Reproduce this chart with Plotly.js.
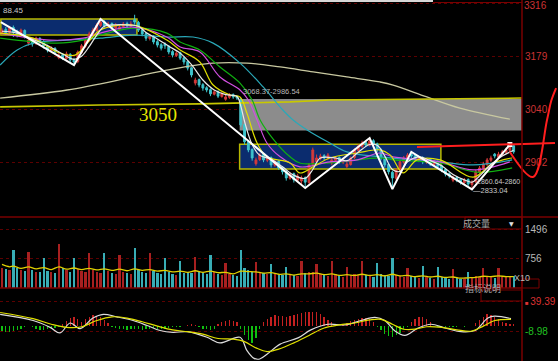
<!DOCTYPE html>
<html><head><meta charset="utf-8">
<script src="https://cdn.plot.ly/plotly-3.0.1.min.js"></script>
<style>html,body{margin:0;padding:0;background:#000;overflow:hidden}#chart{width:558px;height:361px}</style>
</head><body><div id="chart"></div><script>
// ---- price bars (bar index 0..135) ----
const open = [3240,3250,3242,3255,3244,3236,3247,3214,3221,3213,
3226,3218,3206,3195,3200,3176,3184,3174,3185,3171,
3166,3190,3206,3221,3237,3247,3260,3270,3258,3265,
3253,3250,3257,3265,3258,3275,3268,3249,3239,3226,
3232,3218,3210,3212,3206,3192,3182,3189,3176,3166,
3150,3110,3119,3106,3098,3093,3081,3088,3075,3068,
3073,3080,3075,3068,3002,2958,2937,2900,2911,2924,
2909,2916,2896,2906,2890,2880,2862,2874,2857,2855,
2864,2851,2898,2905,2914,2921,2914,2902,2909,2916,
2904,2893,2898,2916,2935,2945,2955,2948,2960,2952,
2937,2916,2898,2878,2862,2883,2904,2914,2924,2921,
2909,2916,2904,2911,2898,2906,2895,2885,2874,2857,
2864,2859,2851,2859,2846,2853,2878,2888,2898,2909,
2925,2917,2924,2930,2935,2947];
const close = [3248,3240,3254,3243,3235,3248,3233,3222,3212,3227,
3217,3207,3196,3201,3191,3183,3175,3186,3170,3165,
3191,3207,3222,3238,3248,3261,3269,3259,3264,3254,
3261,3256,3264,3259,3264,3269,3248,3238,3227,3233,
3217,3209,3201,3207,3191,3183,3188,3175,3165,3149,
3131,3118,3105,3097,3092,3082,3087,3076,3082,3074,
3079,3074,3071,3001,2957,2936,2915,2910,2923,2910,
2915,2897,2905,2889,2879,2863,2873,2858,2868,2863,
2852,2897,2936,2915,2920,2915,2923,2910,2915,2905,
2910,2899,2915,2936,2946,2954,2949,2959,2951,2936,
2915,2897,2879,2863,2884,2905,2915,2923,2920,2910,
2915,2905,2910,2899,2905,2894,2884,2873,2868,2863,
2858,2852,2858,2847,2852,2879,2889,2899,2910,2915,
2920,2925,2931,2936,2946,2931];
const high = [3253,3256,3259,3260,3249,3252,3250,3228,3226,3231,
3230,3222,3210,3206,3204,3190,3188,3192,3188,3176,
3195,3212,3227,3244,3254,3266,3277,3274,3270,3268,
3266,3262,3269,3270,3271,3288,3272,3252,3243,3238,
3235,3222,3214,3216,3209,3196,3193,3192,3180,3169,
3153,3124,3122,3110,3102,3096,3092,3091,3086,3080,
3084,3083,3078,3071,3005,2962,2940,2916,2928,2927,
2920,2919,2910,2909,2893,2884,2878,2877,2874,2869,
2867,2902,2942,2924,2926,2925,2928,2915,2920,2919,
2915,2905,2919,2940,2951,2960,2959,2967,2964,2955,
2940,2919,2901,2882,2888,2909,2920,2928,2931,2924,
2920,2919,2915,2914,2910,2909,2898,2888,2878,2869,
2868,2862,2863,2862,2857,2884,2894,2905,2915,2921,
2928,2931,2936,2942,2950,2950];
const low = [3236,3236,3238,3230,3229,3232,3226,3208,3205,3209,
3212,3200,3190,3191,3186,3172,3170,3171,3164,3157,
3162,3186,3202,3218,3233,3244,3256,3254,3253,3249,
3248,3245,3253,3254,3254,3262,3243,3232,3220,3221,
3211,3203,3195,3199,3185,3177,3178,3170,3158,3143,
3125,3104,3099,3090,3086,3076,3078,3071,3072,3064,
3069,3069,3066,2995,2950,2930,2908,2895,2907,2904,
2904,2890,2892,2884,2872,2856,2858,2851,2853,2845,
2837,2848,2894,2899,2909,2910,2910,2896,2904,2900,
2899,2888,2895,2912,2931,2941,2944,2945,2946,2930,
2909,2890,2872,2834,2858,2879,2900,2910,2914,2905,
2904,2899,2900,2894,2894,2888,2878,2867,2862,2852,
2852,2846,2846,2840,2833,2850,2874,2884,2894,2904,
2914,2913,2920,2926,2931,2926];
const volume = [520,480,450,980,500,460,430,930,470,420,
400,775,440,410,380,1110,520,470,420,775,
480,430,400,900,460,420,380,880,430,390,
360,830,420,380,350,1030,470,420,380,880,
430,390,360,775,400,360,330,700,380,420,
390,800,420,380,350,850,400,360,330,645,
360,330,310,980,520,450,400,670,420,380,
350,600,380,340,320,540,360,320,300,700,
380,400,420,620,360,320,300,700,360,320,
290,540,330,360,340,700,340,310,290,645,
360,330,300,775,340,310,280,500,300,270,
250,570,290,260,240,540,280,250,230,490,
260,240,220,410,280,300,270,515,300,280,
260,515,290,270,300,310];
const macdHist = [-9,-10,-10,-9,-8,-6,-2,-1,-3,-5,
-7,-7,-6,-5,-4,-2,3,8,12,14,
10,6,10,14,17,16,13,9,4,-2,
-4,-5,-6,-7,-6,-5,-6,-7,-6,-5,
-4,-5,-6,-5,-4,-3,-2,-2,-1,1,
2,1,-3,-5,-6,-7,-5,2,5,7,
9,8,6,-6,-15,-24,-28,-20,-6,5,
10,14,17,16,15,14,15,17,19,20,
21,22,22,21,18,14,9,5,2,0,
1,4,7,9,11,12,12,10,6,-3,
-8,-13,-17,-18,-16,-12,-6,-2,5,10,
14,13,10,5,-1,-2,-3,-3,-2,-3,
-2,-1,-2,-1,0,4,9,14,18,17,
14,10,6,4,3,2];

// ---- moving averages (bar index, value) ----
const ma5X = [0,4,8,12,16,19,21,23,25,27,30,34,36,38,41,44,47,50,53,56,59,62,63,64,66,68,71,74,77,80,82,84,88,91,94,97,99,101,103,105,107,110,113,116,119,122,124,126,129,132,135];
const ma5Y = [3245,3240,3224,3208,3186,3172,3180,3205,3235,3258,3262,3261,3258,3242,3225,3206,3188,3158,3118,3092,3080,3075,3050,3010,2950,2922,2912,2892,2870,2862,2885,2915,2915,2908,2930,2950,2948,2920,2885,2880,2905,2918,2908,2895,2872,2858,2852,2868,2898,2920,2935];
const ma10X = [-0.5,8.2,14.5,19.3,23.2,25.9,34.6,43.5,47,52.2,55.7,60.2,62.8,64.6,67.3,69.9,76,78.6,82.1,86.5,93.7,99.7,102.4,105.8,109.5,115.6,124.3,129.6,134.6];
const ma10Y = [3240,3227,3191,3183,3222,3248,3261,3222,3196,3165,3105,3079,3074,3032,2954,2918,2902,2876,2892,2915,2928,2936,2923,2876,2910,2910,2865,2902,2915];
const ma20X = [-0.5,12.7,21.4,25.9,34.6,43.5,47,52.2,57.5,62.8,65,67.3,69.9,73.4,78.6,86.5,93.7,99.7,103.2,115.6,124.3,134];
const ma20Y = [3240,3222,3227,3240,3256,3230,3204,3191,3126,3092,3066,3014,2954,2918,2892,2905,2910,2928,2918,2905,2884,2905];
const ma30X = [-0.5,14.5,21.4,25.9,34.6,43.5,47,52.2,57.5,62.8,66,68.1,71.5,76,78.6,86.5,99.7,103.2,115.6,125.3,134.6];
const ma30Y = [3227,3214,3222,3235,3253,3240,3217,3196,3152,3110,3066,3014,2965,2918,2902,2902,2915,2910,2902,2878,2889];
const ma60X = [-0.5,4,8.2,17.2,25.9,34.6,43.5,50.4,55.7,62.8,68.9,74.1,76.8,80.5,86.5,91,99.7,115.6,124.3,134.6];
const ma60Y = [3157,3196,3214,3222,3227,3235,3230,3230,3214,3162,3100,3040,3014,2988,2954,2931,2918,2905,2897,2910];
const ma250X = [-0.5,17.2,34.6,43.5,55.7,64.6,73.4,82.1,91,99.7,103.2,112.1,120.8,134];
const ma250Y = [3071,3092,3126,3144,3162,3162,3152,3139,3126,3113,3105,3074,3045,3016];
const level3050X = [-0.5,25.9,52.2,62.8,76,86.5,112.9,137.2];
const level3050Y = [3048,3053,3056,3058,3061,3066,3069,3071];
const zigX = [-0.3,19,26,80,97,103,108,124,134];
const zigY = [3269,3157,3277,2837,2967,2834,2931,2833,2950];
const volMaX = [0,2,3,5,7,9,11,13,15,17,19,21,23,25,27,29,31,33,35,37,39,41,43,45,47,49,51,53,55,57,59,61,63,65,67,69,71,73,75,77,79,81,83,85,87,89,91,93,95,97,99,101,103,105,107,109,111,113,115,117,119,121,123,125,127,129,131,133,135];
const volMaY = [600,540,560,500,540,490,520,470,540,480,510,470,500,460,490,450,480,440,490,450,470,430,450,410,430,400,440,400,430,390,400,360,430,420,410,380,390,350,360,330,360,360,380,340,360,320,340,320,350,320,340,310,350,310,320,290,310,280,300,270,280,250,260,270,300,290,310,290,290];
const difX = [-0.5,8.2,12.7,15.3,18,20.6,24,26.7,30.3,34.6,38.3,41.7,45.1,48.8,54.1,57.5,62.8,64.6,66.5,68,70,73.4,78.1,81.5,86,90.5,94.7,98.4,101,103.7,106.3,109.8,113.2,116.9,121.1,124.8,128.2,130,134.3];
const difY = [18,8,-3,-12,4,-5,12,18,14,8,0,-8,-11,-10,-19,-28,-19,-40,-53,-54,-46,-30,-20,-7,2,1,8,13,8,-9,-16,-4,2,-4,-10,-8,12,15,11];
const deaX = [-0.5,8.2,13,17,21,25,29,33,37,41,45,49,53,57,61,64,67,70,73,77,81,85,89,93,97,100,103,106,109,112,116,120,124,127,130,134.3];
const deaY = [21,11,2,-3,-2,8,14,12,6,-1,-7,-10,-14,-21,-22,-26,-36,-42,-38,-28,-16,-4,1,4,9,10,2,-6,-6,-2,-3,-7,-9,-1,8,10];

// ---- drawn boxes / marks (bar index, price) ----
const boxTopLeft = {x0:-0.3, x1:35.6, lo:3235, hi:3277};
const boxMiddle  = {x0:62.7, x1:115.8, lo:2886, hi:2951};
const grayZone   = {x0:62.7, lo:2986.54, hi:3068.37};
const redLineX = [109.5,145.9];
const redLineY = [2943.6,2954];
const redVX = [134.0,140.1,143.8,144.9,146.2];
const redVY = [2930.6,2865.5,3013.9,3063.4,3097.2];

// ---- axis ticks and labels ----
const priceTicks = [3316,3179,3040,2902];
const volTicks = [1496,756];
const macdTicks = [39.39,-8.98];
const rangeLabel = '2860.64-2860';
const lowLabel = '2833.04';
const highLabel = '88.45';

const idx = open.map((_, i) => i);
const W = 558, H = 361;
const px = v => v / W, py = v => 1 - v / H;
const RED = '#d43a3a', CYAN = '#3ec4cc', GRID = '#5c0000', FRAME = '#7a0000';

const up = close.map((c, i) => c >= open[i]);
const traces = [
  {type:'scatter', mode:'lines', x:ma250X, y:ma250Y, line:{color:'#c8c8a0', width:1.3, shape:'spline'}},
  {type:'scatter', mode:'lines', x:level3050X, y:level3050Y, line:{color:'#c8c800', width:1.6}},
  {type:'candlestick', x:idx, open, high, low, close, whiskerwidth:0,
   increasing:{line:{color:RED, width:1}, fillcolor:RED},
   decreasing:{line:{color:CYAN, width:1}, fillcolor:CYAN}},
  {type:'scatter', mode:'lines', x:ma60X, y:ma60Y, line:{color:'#2aa8b8', width:1.2, shape:'spline'}},
  {type:'scatter', mode:'lines', x:ma30X, y:ma30Y, line:{color:'#10b010', width:1.2, shape:'spline'}},
  {type:'scatter', mode:'lines', x:ma20X, y:ma20Y, line:{color:'#d050e0', width:1.2, shape:'spline'}},
  {type:'scatter', mode:'lines', x:ma10X, y:ma10Y, line:{color:'#e0e000', width:1.2, shape:'spline'}},
  {type:'scatter', mode:'lines', x:ma5X, y:ma5Y, line:{color:'#e8e8e8', width:1.2, shape:'spline'}},
  {type:'scatter', mode:'lines', x:zigX, y:zigY, line:{color:'#ffffff', width:2}},
  {type:'scatter', mode:'markers', x:[zigX[zigX.length-1]], y:[zigY[zigY.length-1]], marker:{symbol:'square', size:5, color:'#ffffff'}},
  // volume
  {type:'bar', x:idx, y:volume, yaxis:'y2', width:0.6, marker:{color:up.map(u => u ? '#a82020' : '#38adb5'), line:{width:0}}},
  {type:'scatter', mode:'lines', x:volMaX, y:volMaY, yaxis:'y2', line:{color:'#e0d000', width:1.3, shape:'spline'}},
  // MACD
  {type:'bar', x:idx, y:macdHist, yaxis:'y3', width:0.35, marker:{color:macdHist.map(v => v >= 0 ? '#c42020' : '#10c010'), line:{width:0}}},
  {type:'scatter', mode:'lines', x:difX, y:difY, yaxis:'y3', line:{color:'#dcdcdc', width:1.2, shape:'spline'}},
  {type:'scatter', mode:'lines', x:deaX, y:deaY, yaxis:'y3', line:{color:'#e0e000', width:1.2, shape:'spline'}},
  // hand-drawn red strokes (full-figure overlay)
  {type:'scatter', mode:'lines', x:redLineX, y:redLineY, xaxis:'x4', yaxis:'y4', line:{color:'#ff1e1e', width:2}},
  {type:'scatter', mode:'lines', x:redVX, y:redVY, xaxis:'x4', yaxis:'y4', line:{color:'#ff1e1e', width:2, shape:'spline'}}
];

const tickFont = {family:'Liberation Sans, Arial, sans-serif', size:10};
const baseY = {side:'right', anchor:'x', ticks:'', showline:false, zeroline:false, showgrid:true,
  gridcolor:GRID, griddash:'dot', gridwidth:1, automargin:false, tickmode:'array', ticklabelstandoff:2,
  ticklabeloverflow:'allow'};

const layout = {
  width:W, height:H, margin:{l:0, r:0, t:0, b:0, pad:0},
  paper_bgcolor:'#000', plot_bgcolor:'rgba(0,0,0,0)', showlegend:false, hovermode:false, bargap:0,
  xaxis:{domain:[0, px(522)], range:[-0.528, 137.2], visible:false, rangeslider:{visible:false}, anchor:'y3'},
  yaxis:Object.assign({}, baseY, {domain:[py(217), 1], range:[2761.3, 3326.4], tickvals:priceTicks,
    ticktext:priceTicks.map((v, i) => i === 0 ? '' : String(v)), tickfont:Object.assign({color:'#cc3333'}, tickFont)}),
  yaxis2:Object.assign({}, baseY, {domain:[py(288), py(218)], range:[0, 1785], tickvals:volTicks,
    ticktext:volTicks.map(String), tickfont:Object.assign({color:'#b8b8b8'}, tickFont)}),
  yaxis3:Object.assign({}, baseY, {domain:[0, py(290)], range:[-57.2, 57.2], tickvals:macdTicks,
    ticktext:['<span style="font-size:6px">■ </span>' + macdTicks[0].toFixed(2), '<span style="color:#20c020">' + macdTicks[1].toFixed(2) + '</span>'],
    tickfont:Object.assign({color:'#dd3333'}, tickFont)}),
  xaxis4:{domain:[0,1], range:[-0.528, 146.7], anchor:'y4', visible:false},
  yaxis4:{domain:[0,1], range:[2386.4, 3326.4], anchor:'x4', visible:false},
  shapes:[
    {type:'rect', layer:'between', xref:'x', yref:'y', x0:grayZone.x0, x1:137.2, y0:grayZone.lo, y1:grayZone.hi, fillcolor:'#8c8c8c', line:{width:0}},
    {type:'rect', layer:'between', xref:'x', yref:'y', x0:boxTopLeft.x0, x1:boxTopLeft.x1, y0:boxTopLeft.lo, y1:boxTopLeft.hi, fillcolor:'#0b2c6e', line:{color:'#b8b800', width:1.5}},
    {type:'rect', layer:'between', xref:'x', yref:'y', x0:boxMiddle.x0, x1:boxMiddle.x1, y0:boxMiddle.lo, y1:boxMiddle.hi, fillcolor:'#0b2c6e', line:{color:'#b8b800', width:1.5}},
    {type:'rect', xref:'paper', yref:'paper', x0:0, x1:px(433), y0:py(2), y1:1, fillcolor:'#d8d8d8', line:{width:0}},
    {type:'line', xref:'paper', yref:'paper', x0:px(433), x1:px(522), y0:py(2.5), y1:py(2.5), line:{color:FRAME, width:1}},
    {type:'line', xref:'paper', yref:'paper', x0:0, x1:1, y0:py(217), y1:py(217), line:{color:FRAME, width:1.5}},
    {type:'line', xref:'paper', yref:'paper', x0:0, x1:px(522), y0:py(288), y1:py(288), line:{color:FRAME, width:1.5}},
    {type:'line', xref:'paper', yref:'paper', x0:px(522), x1:px(522), y0:0, y1:1, line:{color:FRAME, width:1.5}},
    {type:'rect', xref:'paper', yref:'paper', x0:px(465), x1:px(522), y0:py(229), y1:py(217), line:{color:FRAME, width:1}},
    {type:'rect', xref:'paper', yref:'paper', x0:px(522), x1:px(539), y0:py(288), y1:py(279), line:{color:FRAME, width:1}},
    {type:'rect', xref:'paper', yref:'paper', x0:px(481), x1:px(522), y0:py(301), y1:py(290), line:{color:FRAME, width:1}}
  ],
  annotations:[
    {xref:'paper', yref:'paper', x:px(523), y:py(6), xanchor:'left', yanchor:'middle', text:String(priceTicks[0]), showarrow:false, borderpad:0, font:{family:'Liberation Sans, Arial', size:10, color:'#cc3333'}},
    {xref:'x', yref:'y', x:41.2, y:3029.5, text:'3050', showarrow:false, font:{family:'Liberation Serif, Times New Roman, serif', size:19, color:'#e6e600'}},
    {xref:'x', yref:'y', x:grayZone.x0 + 0.3, y:3087, xanchor:'left', text:grayZone.hi.toFixed(2) + '-' + grayZone.lo.toFixed(2), showarrow:false, font:{family:'Liberation Sans, Arial', size:7.5, color:'#b8b8b8'}},
    {xref:'x', yref:'y', x:125.0, y:2855, xanchor:'left', yanchor:'middle', text:rangeLabel, showarrow:false, borderpad:0, font:{family:'Liberation Sans, Arial', size:7, color:'#c8c8c8'}},
    {xref:'x', yref:'y', x:124.0, y:2831, xanchor:'left', yanchor:'middle', text:'—' + lowLabel, showarrow:false, borderpad:0, font:{family:'Liberation Sans, Arial', size:7.5, color:'#c8c8c8'}},
    {xref:'x', yref:'y', x:-0.3, y:3300, xanchor:'left', text:highLabel, showarrow:false, font:{family:'Liberation Sans, Arial', size:8, color:'#c8c8c8'}},
    {xref:'paper', yref:'paper', x:px(492), y:py(223), text:'成交量', showarrow:false, font:{family:'Noto Sans CJK SC', size:9, color:'#a8a8a8'}},
    {xref:'paper', yref:'paper', x:px(516), y:py(223), text:'▼', showarrow:false, font:{family:'DejaVu Sans', size:6, color:'#e0e0e0'}},
    {xref:'paper', yref:'paper', x:px(530.5), y:py(283.5), text:'X10', showarrow:false, borderpad:0, font:{family:'Liberation Sans, Arial', size:9, color:'#b8b8b8'}},
    {xref:'paper', yref:'paper', x:px(501.5), y:py(295.5), text:'指标说明', showarrow:false, borderpad:0, font:{family:'Noto Sans CJK SC', size:9, color:'#a8a8a8'}}
  ]
};

Plotly.newPlot('chart', traces, layout, {staticPlot:true, displayModeBar:false});
</script></body></html>
